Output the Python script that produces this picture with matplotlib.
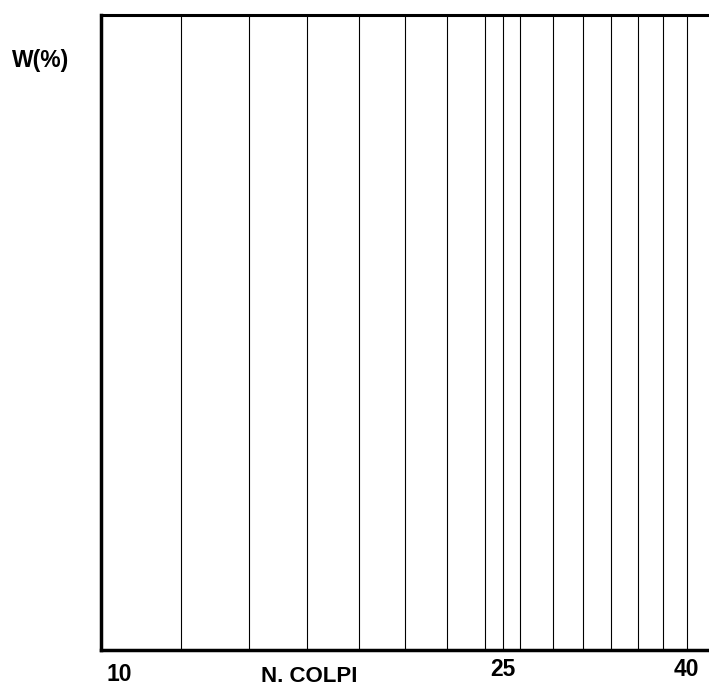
import matplotlib
matplotlib.use('Agg')
import matplotlib.pyplot as plt

# Blow counts where the vertical guide lines are drawn (log scale)
grid_blows = [12, 14, 16, 18, 20, 22, 24, 25, 26, 28, 30, 32, 34, 36, 38]
x_min, x_max = 10, 40
tick_labels = ['10', '25', '40']
label_at = [25, 38]

plt.rcParams['font.family'] = ['Liberation Sans', 'DejaVu Sans']

fig = plt.figure(figsize=(7.09, 6.87), dpi=100)
ax = fig.add_axes([101 / 709, 1 - 650 / 687, 1 - 101 / 709, (650 - 15) / 687])
ax.set_xscale('log')
ax.set_xlim(x_min, x_max)
ax.set_ylim(0, 1)

# Vertical guide lines
for n in grid_blows:
    ax.axvline(n, color='black', linewidth=0.8)

# Frame: thick left, top and bottom, no right side
ax.spines['right'].set_visible(False)
ax.spines['left'].set_linewidth(2.5)
ax.spines['top'].set_linewidth(2.2)
ax.spines['bottom'].set_linewidth(2.5)
ax.set_xticks([])
ax.set_xticks([], minor=True)
ax.set_yticks([])

# Axis labels placed as free text
trans = ax.get_xaxis_transform()
fig.text(107 / 709, 1 - 663 / 687, tick_labels[0], ha='left', va='top',
         fontsize=16.5, fontweight='bold')
ax.text(label_at[0], -0.012, tick_labels[1], transform=trans, ha='center', va='top',
        fontsize=16.5, fontweight='bold')
ax.text(label_at[1], -0.012, tick_labels[2], transform=trans, ha='center', va='top',
        fontsize=16.5, fontweight='bold')
fig.text(309 / 709, 1 - 676 / 687, 'N. COLPI', ha='center', va='center',
         fontsize=16, fontweight='bold')
fig.text(41 / 709, 1 - 60 / 687, 'W(%)', ha='center', va='center',
         fontsize=16.5, fontweight='bold')

fig.savefig('out.png', dpi=100)
